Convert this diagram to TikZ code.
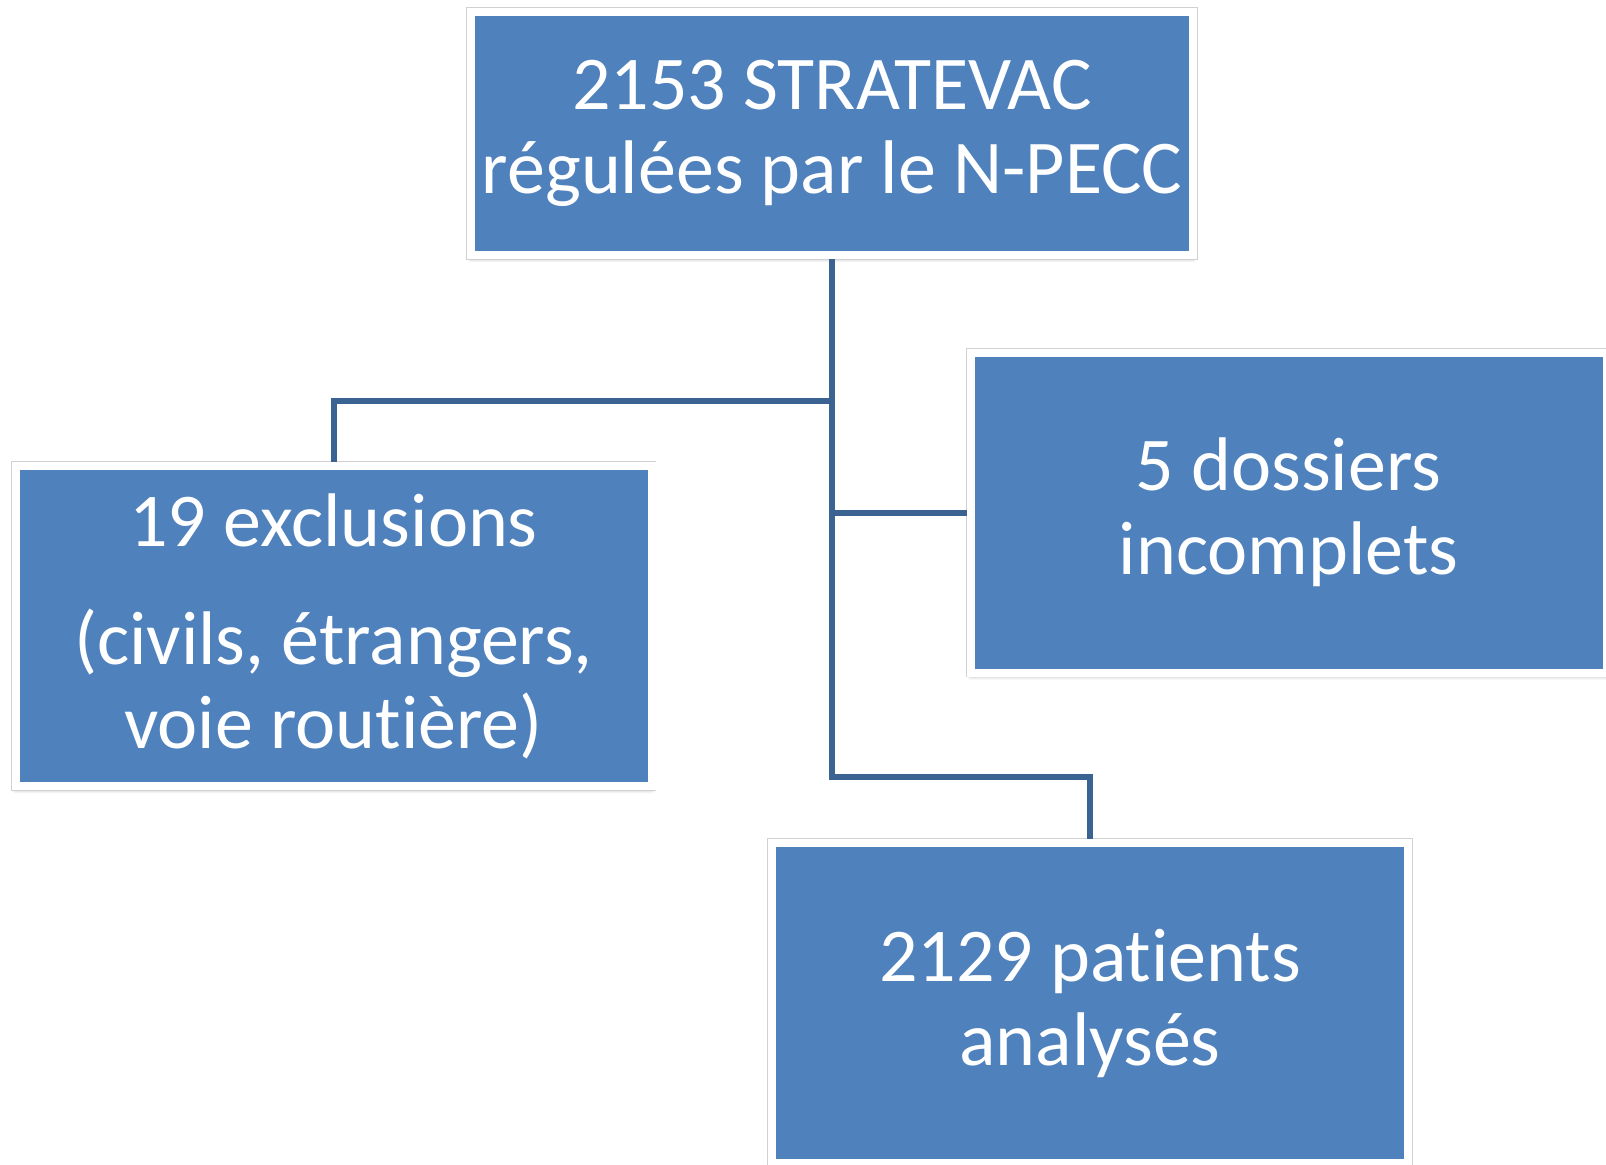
\documentclass[tikz,border=0pt]{standalone}
\usepackage{fontspec}
\setmainfont[Ligatures=NoCommon]{Carlito}
\usepackage{tikz}
\usetikzlibrary{positioning, shadows.blur}
\definecolor{boxblue}{HTML}{4F81BD}
\definecolor{linkblue}{HTML}{3B6392}

\begin{document}
\begin{tikzpicture}[x=0.5pt, y=-0.5pt,
            stage/.style={rectangle, fill=boxblue, draw=white, line width=4pt, text=white, align=center, inner sep=0pt, minimum width=318pt, minimum height=160pt, font=\fontsize{38}{42}\selectfont, blur shadow={shadow xshift=0pt, shadow yshift=-2pt, shadow blur steps=6, shadow opacity=30}, preaction={draw=black!18, line width=4.8pt}},
            link/.style={draw=linkblue, line width=3pt}
        ]
            \useasboundingbox (0,0) rectangle (1606,1164);

            % --- boites ---
            \node[stage, minimum width=361pt, minimum height=121.5pt] (total) at (832,133.5) {2153 STRATEVAC\\régulées par le N-PECC};
            \node[stage] (excl) at (333.5,626) {19 exclusions\\[17pt](civils, étrangers,\\voie routière)};
            \node[stage] (incomp) at (1288.5,512.5) {5 dossiers\\incomplets};
            \node[stage] (ana) at (1090,1003) {2129 patients\\analysés};

            % --- arbre ---
            \draw[link] (total.south) -- ++(0,142) -| (excl.north);
            \draw[link] (total.south) |- (incomp.west);
            \draw[link] (total.south) -- ++(0,518) -| (ana.north);
        \end{tikzpicture}
\end{document}
